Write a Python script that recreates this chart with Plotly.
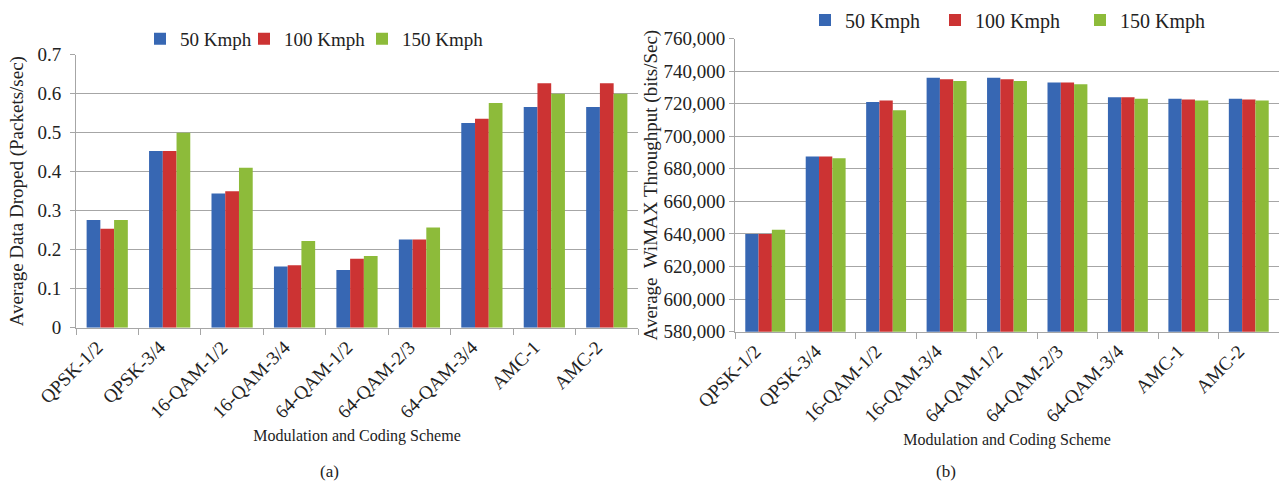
import plotly.graph_objects as go

categories = ["QPSK-1/2", "QPSK-3/4", "16-QAM-1/2", "16-QAM-3/4", "64-QAM-1/2",
              "64-QAM-2/3", "64-QAM-3/4", "AMC-1", "AMC-2"]
series_names = ["50 Kmph", "100 Kmph", "150 Kmph"]

dropped_50 = [0.276, 0.453, 0.344, 0.157, 0.148, 0.226, 0.525, 0.566, 0.566]
dropped_100 = [0.254, 0.453, 0.350, 0.160, 0.177, 0.226, 0.536, 0.627, 0.627]
dropped_150 = [0.276, 0.500, 0.410, 0.222, 0.184, 0.257, 0.576, 0.600, 0.600]

thr_50 = [640000, 687500, 721000, 736000, 736000, 733000, 724000, 723000, 723000]
thr_100 = [640000, 687500, 722000, 735000, 735000, 733000, 724000, 722500, 722500]
thr_150 = [642500, 686500, 716000, 734000, 734000, 732000, 723000, 722000, 722000]

colors = ["#3767B3", "#CC3333", "#8DBB3A"]
FONT = "Liberation Serif, Times New Roman, serif"

W, H = 1279, 486
def px_x(p):
    return p / W
def px_y(p):
    return 1 - p / H

grid = "#A6A6A6"
txt = "#222"

# one legend per series so each entry sits where the original places it
left_legends = ["legend", "legend2", "legend3"]
right_legends = ["legend4", "legend5", "legend6"]
left_text_x = [180, 284, 402]
right_text_x = [845, 975, 1120]

fig = go.Figure()
for name, vals, c, lg in zip(series_names, [dropped_50, dropped_100, dropped_150], colors, left_legends):
    fig.add_trace(go.Bar(x=categories, y=vals, name=name, marker_color=c, showlegend=True,
                         marker_line_width=0, xaxis="x", yaxis="y", legend=lg))
for name, vals, c, lg in zip(series_names, [thr_50, thr_100, thr_150], colors, right_legends):
    fig.add_trace(go.Bar(x=categories, y=vals, name=name, marker_color=c, showlegend=True,
                         marker_line_width=0, xaxis="x2", yaxis="y2", legend=lg))

xcommon = dict(type="category", showline=True, linecolor=grid, linewidth=1,
               ticks="outside", tickson="boundaries", ticklen=6, tickcolor=grid,
               tickangle=-45, showgrid=False, automargin=False, ticklabelshift=-10,
               tickfont=dict(family=FONT, size=19, color=txt),
               title=dict(text="Modulation and Coding Scheme", standoff=8,
                          font=dict(family=FONT, size=16, color=txt)))
ycommon = dict(showline=True, linecolor=grid, linewidth=1,
               ticks="outside", ticklen=5, tickcolor=grid, showgrid=True, gridcolor=grid,
               zeroline=False, automargin=False,
               tickfont=dict(family=FONT, size=19, color=txt))

def legend_at(text_x, text_y, size):
    return dict(orientation="h", x=px_x(text_x - 40), y=px_y(text_y),
                xanchor="left", yanchor="middle",
                font=dict(family=FONT, size=size, color=txt),
                bgcolor="rgba(0,0,0,0)", itemwidth=30, visible=True)

layout_legends = {}
for lg, tx in zip(left_legends, left_text_x):
    layout_legends[lg] = legend_at(tx, 37, 19)
for lg, tx in zip(right_legends, right_text_x):
    layout_legends[lg] = legend_at(tx, 18, 20)

fig.update_layout(
    width=W, height=H,
    margin=dict(l=0, r=0, t=0, b=0),
    showlegend=True,
    paper_bgcolor="white", plot_bgcolor="white",
    barmode="group", bargap=0.34, bargroupgap=0,
    font=dict(family=FONT, color=txt),
    xaxis=dict(domain=[px_x(76), px_x(638)], anchor="y", **xcommon),
    yaxis=dict(domain=[px_y(327), px_y(53)], anchor="x", range=[0, 0.7], dtick=0.1,
               tickformat="~g", ticklabelstandoff=5,
               title=dict(text="Average Data Droped (Packets/sec)", standoff=8,
                          font=dict(family=FONT, size=19, color=txt)),
               **ycommon),
    xaxis2=dict(domain=[px_x(735), 1.0], anchor="y2", **xcommon),
    yaxis2=dict(domain=[px_y(331), px_y(36.7)], anchor="x2", range=[580000, 760000],
                dtick=20000, tickformat=",",
                title=dict(text="Average  WiMAX Throughput (bits/Sec)", standoff=0,
                           font=dict(family=FONT, size=19, color=txt)),
                **ycommon),
    annotations=[
        dict(text="(a)", x=px_x(318), y=px_y(471), xref="paper", yref="paper",
             yanchor="middle", showarrow=False, font=dict(family=FONT, size=17, color=txt)),
        dict(text="(b)", x=px_x(958), y=px_y(471), xref="paper", yref="paper",
             yanchor="middle", showarrow=False, font=dict(family=FONT, size=17, color=txt)),
    ],
    **layout_legends,
)

fig.write_html("out.html")
